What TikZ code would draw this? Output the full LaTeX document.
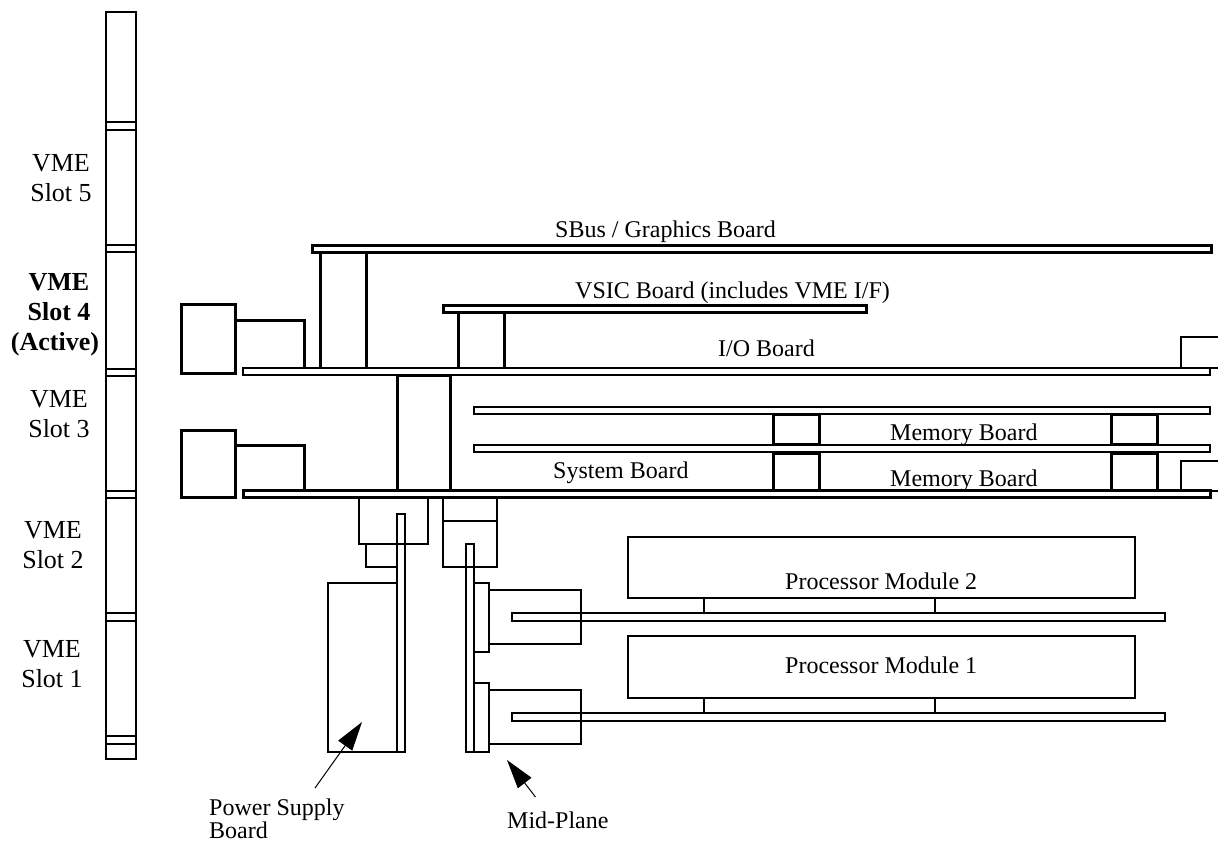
\documentclass[tikz,border=0pt]{standalone}
\usepackage{fontspec}
\setmainfont{Liberation Serif}
\usetikzlibrary{arrows.meta, positioning}

\begin{document}
\begin{tikzpicture}[
  x=1pt, y=-1pt,
  heavy/.style={draw, line width=3pt},
  light/.style={draw, line width=2pt},
  pointer/.style={draw, line width=1pt, -{Triangle[length=29pt, width=17pt]}},
  every node/.style={font=\fontsize{24}{30}\selectfont, inner sep=0pt},
  lbl/.style={anchor=base west},
  slot/.style={align=center, font=\fontsize{26}{30}\selectfont}
]
\useasboundingbox (0,0) rectangle (1218,841);

% VME rail
\draw[light] (105.5,11.5) rectangle (135.5,759);
\foreach \ya/\yb in {122/130, 245/252, 369/376, 491/498, 613/621, 736/744}
  \draw[light] (105.5,\ya) -- (135.5,\ya) (105.5,\yb) -- (135.5,\yb);

\node[slot] (slotFive) at (61,178.5) {VME\\Slot 5};
\node[slot] (slotFour) at (59,314.5) {\textbf{VME}\\\textbf{Slot 4}\\\textbf{(Active)}\hspace*{8pt}};
\node[slot] (slotThree) at (59,414) {VME\\Slot 3};
\node[slot] (slotTwo) at (53,545) {VME\\Slot 2};
\node[slot] (slotOne) at (52,664) {VME\\Slot 1};

% upper boards
\draw[heavy] (312.5,245) rectangle (1211,252);
\draw[heavy] (320.5,252) -- (320.5,368) (366.5,252) -- (366.5,368);
\draw[heavy] (443.5,305) rectangle (866,312);
\draw[heavy] (458.5,312) -- (458.5,368) (504.5,312) -- (504.5,368);
\draw[heavy] (181.5,304.5) rectangle (235.5,373);
\draw[heavy] (235.5,320.5) -- (304,320.5) -- (304,368);
\draw[light] (243,368) rectangle (1210,375);
\draw[light] (1181,368) -- (1181,337) -- (1218,337);
\draw[light] (1210,368) -- (1218,368);
\draw[heavy] (397.5,375.5) -- (397.5,490) (450.5,375.5) -- (450.5,490) (397.5,375.5) -- (452,375.5);

\node[lbl] (sbusLabel) at (555,237.5) {SBus / Graphics Board};
\node[lbl] (vsicLabel) at (575,298) {VSIC Board (includes VME I/F)};
\node[lbl] (ioLabel) at (718,356) {I/O Board};

% memory boards
\draw[light] (474,406.5) rectangle (1210,414);
\draw[light] (474,444.5) rectangle (1210,452);
\foreach \xa/\xb in {773.5/819.5, 1111.5/1157.5} {
  \draw[heavy] (\xa,414) rectangle (\xb,444);
  \draw[heavy] (\xa,490) -- (\xa,453) -- (\xb,453) -- (\xb,490);
}
\node[lbl] (memUpper) at (890,440.5) {Memory Board};
\node[lbl] (memLower) at (890,486) {Memory Board};
\node[lbl] (sysLabel) at (553,478) {System Board};

% system board
\draw[heavy] (181.5,430.5) rectangle (235.5,497.5);
\draw[heavy] (235.5,445) -- (304,445) -- (304,490);
\draw[heavy] (243.5,490.5) rectangle (1210.5,497.5);
\draw[light] (1181,490) -- (1181,460.5) -- (1218,460.5);
\draw[light] (1211,491) -- (1218,491);

% power supply
\draw[light] (359,498) -- (359,544) -- (428,544) -- (428,498);
\draw[light] (366,544) -- (366,567) -- (397,567);
\draw[light] (397,514) rectangle (405,752);
\draw[light] (397,583) -- (328,583) -- (328,752) -- (397,752);

% mid-plane
\draw[light] (443,498) -- (443,567) -- (497,567) -- (497,498) (443,521) -- (497,521);
\draw[light] (466,544) rectangle (474,752);
\foreach \ya/\yb in {583/652, 683/752}
  \draw[light] (474,\ya) -- (489,\ya) -- (489,\yb) -- (474,\yb);
\foreach \ya/\yb in {590/644, 690/744}
  \draw[light] (489,\ya) -- (581,\ya) -- (581,\yb) -- (489,\yb);

% processor modules
\foreach \ya/\yb/\yc/\yd in {537/598/613/621, 636/698/713/721} {
  \draw[light] (628,\ya) rectangle (1135,\yb);
  \draw[light] (704,\yb) -- (704,\yc) (935,\yb) -- (935,\yc);
  \draw[light] (512,\yc) rectangle (1165,\yd);
}
\node[lbl] (cpuTwo) at (785,589) {Processor Module 2};
\node[lbl] (cpuOne) at (785,673) {Processor Module 1};

% callouts
\node[lbl] (psuLabel) at (209,815) {Power Supply};
\node[lbl] (psuLabelTwo) at (209,838) {Board};
\node[lbl] (midLabel) at (507,828) {Mid-Plane};
\coordinate (psuTail) at (315,788);
\coordinate (psuTip) at (362,722);
\coordinate (midTail) at (535.5,797);
\coordinate (midTip) at (507,760);
\draw[pointer] (psuTail) -- (psuTip);
\draw[pointer] (midTail) -- (midTip);
\end{tikzpicture}
\end{document}
